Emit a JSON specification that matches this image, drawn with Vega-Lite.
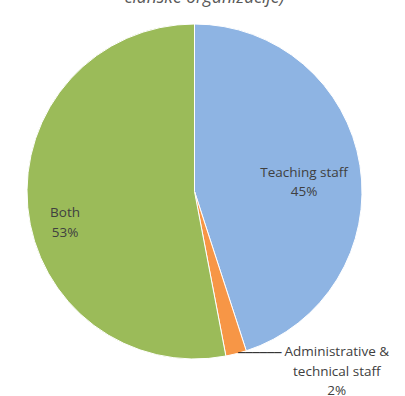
{
  "$schema": "https://vega.github.io/schema/vega-lite/v6.json",
  "width": 389,
  "height": 383,
  "padding": {"left": 0, "top": 0, "right": 16, "bottom": 13},
  "autosize": {"type": "none"},
  "background": "white",
  "config": {"view": {"stroke": null}},
  "title": {
    "text": "članske organizacije)",
    "font": "Open Sans",
    "fontStyle": "italic",
    "fontWeight": "normal",
    "fontSize": 17.5,
    "color": "#595959",
    "anchor": "middle",
    "offset": 0,
    "baseline": "alphabetic",
    "dy": 20,
    "dx": 10
  },
  "data": {
    "values": [
      {"group": "Teaching staff", "label": ["Teaching staff", "45%"], "share": 45, "order": 1},
      {"group": "Administrative & technical staff", "label": ["Administrative &", "technical staff", "2%"], "share": 2, "order": 2},
      {"group": "Both", "label": ["Both", "53%"], "share": 53, "order": 3}
    ]
  },
  "encoding": {
    "theta": {"field": "share", "type": "quantitative", "stack": true},
    "order": {"field": "order", "type": "quantitative"}
  },
  "layer": [
    {
      "mark": {"type": "arc", "outerRadius": 167.5, "stroke": "white", "strokeWidth": 1},
      "encoding": {
        "color": {
          "field": "group",
          "type": "nominal",
          "scale": {
            "domain": ["Teaching staff", "Administrative & technical staff", "Both"],
            "range": ["#8EB4E3", "#F79646", "#9BBB59"]
          },
          "legend": null
        }
      }
    },
    {
      "mark": {"type": "text", "radius": 111, "dy": -1.3, "font": "Open Sans", "fontSize": 13.5, "color": "#404040", "lineHeight": 19.5, "align": "center", "baseline": "middle"},
      "encoding": {"text": {"condition": {"test": "datum.order == 1", "field": "label"}, "value": ""}}
    },
    {
      "mark": {"type": "text", "radius": 130, "dy": 9.5, "font": "Open Sans", "fontSize": 13.5, "color": "#404040", "lineHeight": 19.5, "align": "center", "baseline": "middle"},
      "encoding": {"text": {"condition": {"test": "datum.order == 3", "field": "label"}, "value": ""}}
    },
    {
      "mark": {"type": "text", "radius": 166, "dx": 101, "dy": 0, "font": "Open Sans", "fontSize": 13.5, "color": "#404040", "lineHeight": 19.5, "align": "center", "baseline": "middle"},
      "encoding": {"text": {"condition": {"test": "datum.order == 2", "field": "label"}, "value": ""}}
    },
    {
      "mark": {"type": "text", "radius": 166, "dx": 24, "dy": 1, "font": "DejaVu Sans Mono", "fontSize": 12, "color": "#222222", "align": "center", "baseline": "middle"},
      "encoding": {"text": {"condition": {"test": "datum.order == 2", "value": "──────"}, "value": ""}}
    }
  ]
}
